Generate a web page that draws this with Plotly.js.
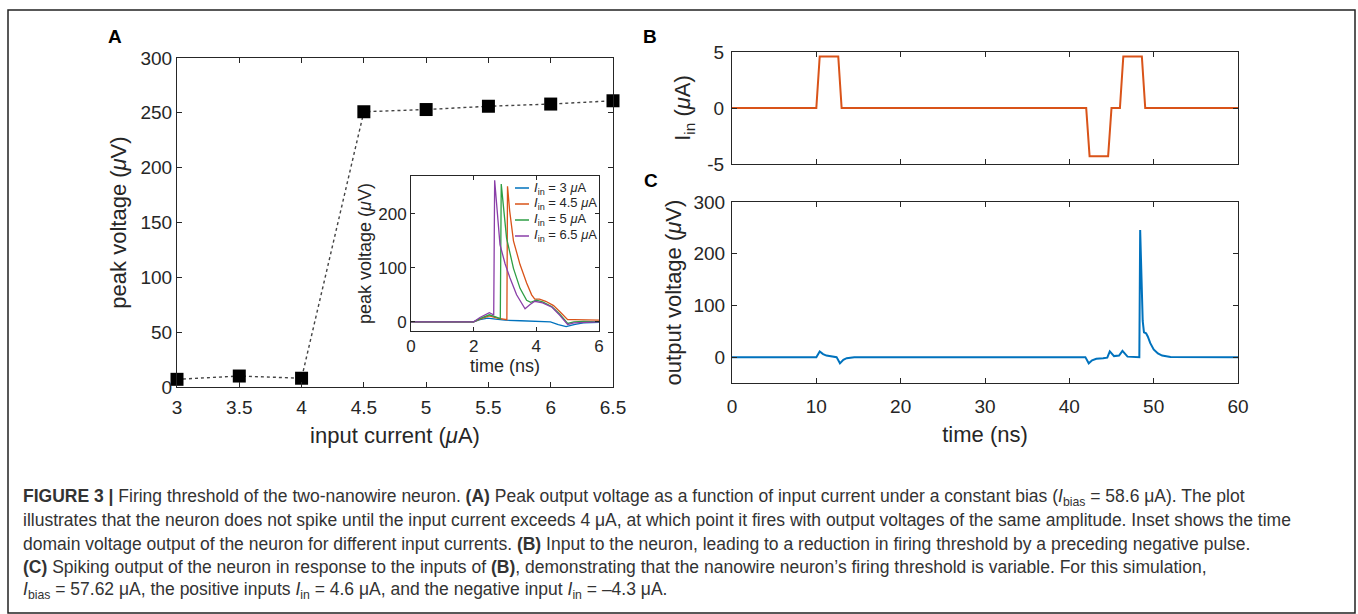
<!DOCTYPE html>
<html>
<head>
<meta charset="utf-8">
<script src="https://cdn.plot.ly/plotly-3.0.1.min.js"></script>
<style>html,body{margin:0;padding:0;background:#fff;}#chart{width:1358px;height:614px;}</style>
</head>
<body>
<div id="chart"></div>
<script>
// ---------- Panel A: peak voltage vs input current ----------
const peakCurrent = [3, 3.5, 4, 4.5, 5, 5.5, 6, 6.5];
const peakVoltage = [7, 10, 8, 251, 253, 256, 258, 261];

// ---------- Inset: time-domain output for several input currents ----------
const insetLabels = [
  '<i>I</i><sub>in</sub> = 3 <i>μ</i>A',
  '<i>I</i><sub>in</sub> = 4.5 <i>μ</i>A',
  '<i>I</i><sub>in</sub> = 5 <i>μ</i>A',
  '<i>I</i><sub>in</sub> = 6.5 <i>μ</i>A'
];
const insetTime3 = [0, 2.0, 2.2, 2.45, 2.7, 3.0, 3.5, 4.0, 4.45, 4.7, 4.95, 5.2, 5.5, 6.0];
const insetV3    = [0, 0, 4, 7, 5, 3, 2, 1.5, 0, -5, -9, -5, -2, -1];
const insetTime45 = [0, 2.0, 2.2, 2.5, 2.75, 3.0, 3.06, 3.08, 3.15, 3.27, 3.48, 3.69, 3.85, 3.95, 4.1, 4.3, 4.55, 4.8, 5.0, 5.2, 5.5, 6.0];
const insetV45    = [0, 0, 5, 11, 7, 4, 4, 251, 205, 150, 106, 72, 50, 42, 42, 38, 30, 16, 4, 4, 4, 3];
const insetTime5 = [0, 2.0, 2.2, 2.5, 2.7, 2.85, 2.88, 2.95, 3.05, 3.27, 3.48, 3.69, 3.82, 4.0, 4.2, 4.5, 4.75, 5.0, 5.2, 5.5, 6.0];
const insetV5    = [0, 0, 6, 13, 9, 6, 255, 210, 155, 99, 62, 40, 36, 40, 37, 28, 14, -3, 0, 1, 0];
const insetTime65 = [0, 2.0, 2.2, 2.5, 2.6, 2.64, 2.67, 2.73, 2.84, 3.0, 3.16, 3.37, 3.64, 3.8, 3.95, 4.2, 4.5, 4.75, 5.0, 5.2, 5.5, 6.0];
const insetV65    = [0, 0, 8, 17, 14, 12, 262, 220, 143, 108, 81, 50, 24, 32, 38, 35, 27, 12, -5, -2, -1, 0];

// ---------- Panel B: input current vs time ----------
const inputTime    = [0, 10, 10.4, 12.6, 13, 42, 42.4, 44.6, 45, 46, 46.4, 48.6, 49, 60];
const inputCurrent = [0, 0, 4.6, 4.6, 0, 0, -4.3, -4.3, 0, 0, 4.6, 4.6, 0, 0];

// ---------- Panel C: output voltage vs time ----------
const outputTime    = [0, 10.0, 10.4, 10.8, 11.2, 12.0, 12.4, 12.8, 13.2, 13.6, 14.5, 41.9, 42.3, 42.7, 43.2, 44.0, 44.5, 44.8, 45.3, 45.9, 46.3, 46.9, 48.3, 48.4, 48.55, 48.7, 48.85, 49.1, 49.3, 49.6, 50.0, 50.5, 51.0, 52.0, 60];
const outputVoltage = [0, 0, 11, 6, 3, 1, 0, -12, -5, -2, 0, 0, -12, -6, -3, -2, -1, 11, 2, 3, 12, 1, 0, 246, 140, 70, 48, 46, 40, 27, 15, 7, 3, 0.5, 0];

// ---------- tick labels ----------
const aTickVals = [3, 3.5, 4, 4.5, 5, 5.5, 6, 6.5];
const aTickText = ['3', '3.5', '4', '4.5', '5', '5.5', '6', '6.5'];
const bYTickVals = [-5, 0, 5];
const bYTickText = ['-5', '0', '5'];
const timeTickVals = [0, 10, 20, 30, 40, 50, 60];
const cYTickVals = [0, 100, 200, 300];
const insetXTicks = [0, 2, 4, 6];
const insetYTicks = [0, 100, 200];

const W = 1358, H = 614;
const px = v => v / W;
const py = v => 1 - v / H;

const FONT = 'Liberation Sans, Arial, Helvetica, sans-serif';
const AX = '#262626';

const insetColors = ['#0072BD', '#D95319', '#2E9E44', '#8A3FA8'];
const insetTimes = [insetTime3, insetTime45, insetTime5, insetTime65];
const insetVals = [insetV3, insetV45, insetV5, insetV65];

const traces = [];
traces.push({
  x: peakCurrent, y: peakVoltage, xaxis: 'x', yaxis: 'y',
  mode: 'lines+markers', showlegend: false, cliponaxis: false,
  line: {color: '#444', width: 1.4, dash: '3px,3px'},
  marker: {symbol: 'square', size: 13, color: '#000'}
});
for (let i = 0; i < 4; i++) {
  traces.push({
    x: insetTimes[i], y: insetVals[i], xaxis: 'x4', yaxis: 'y4',
    mode: 'lines', name: insetLabels[i], showlegend: false,
    line: {color: insetColors[i], width: 1.3}
  });
}
traces.push({
  x: inputTime, y: inputCurrent, xaxis: 'x2', yaxis: 'y2',
  mode: 'lines', showlegend: false, line: {color: '#D95319', width: 2}
});
traces.push({
  x: outputTime, y: outputVoltage, xaxis: 'x3', yaxis: 'y3',
  mode: 'lines', showlegend: false, line: {color: '#0072BD', width: 2}
});

function axis(extra) {
  return Object.assign({
    showline: true, linecolor: AX, linewidth: 1, mirror: 'ticks',
    ticks: 'inside', ticklen: 5, tickwidth: 1, tickcolor: AX,
    showgrid: false, zeroline: false, fixedrange: true,
    tickfont: {family: FONT, size: 19, color: AX}
  }, extra);
}
const titleFont = {family: FONT, size: 22, color: AX};
const insetTitleFont = {family: FONT, size: 18, color: AX};

const layout = {
  width: W, height: H,
  margin: {l: 0, r: 0, t: 0, b: 0, pad: 0},
  paper_bgcolor: '#fff', plot_bgcolor: 'rgba(0,0,0,0)',
  font: {family: FONT, color: AX},
  showlegend: false,
  xaxis: axis({
    domain: [px(177), px(613)], range: [3, 6.5], anchor: 'y',
    tickvals: aTickVals, ticktext: aTickText, ticklabelstandoff: 3,
    title: {text: 'input current (<i>μ</i>A)', font: titleFont, standoff: 10}
  }),
  yaxis: axis({
    domain: [py(387), py(58)], range: [0, 300], anchor: 'x', dtick: 50,
    title: {text: 'peak voltage (<i>μ</i>V)', font: titleFont, standoff: 7}
  }),
  xaxis2: axis({
    domain: [px(732), px(1238)], range: [0, 60], anchor: 'y2',
    tickvals: timeTickVals, showticklabels: false
  }),
  yaxis2: axis({
    domain: [py(164), py(52)], range: [-5, 5], anchor: 'x2',
    tickvals: bYTickVals, ticktext: bYTickText, ticklabelstandoff: 3,
    title: {text: 'I<sub>in</sub> (<i>μ</i>A)', font: titleFont, standoff: 10}
  }),
  xaxis3: axis({
    domain: [px(732), px(1238)], range: [0, 60], anchor: 'y3',
    tickvals: timeTickVals, ticklabelstandoff: 6,
    title: {text: 'time (ns)', font: titleFont, standoff: 10}
  }),
  yaxis3: axis({
    domain: [py(383), py(202)], range: [-50, 300], anchor: 'x3',
    tickvals: cYTickVals, ticklabelstandoff: 2,
    title: {text: 'output voltage (<i>μ</i>V)', font: titleFont, standoff: 5}
  }),
  xaxis4: axis({
    domain: [px(411), px(599)], range: [0, 6], anchor: 'y4',
    tickvals: insetXTicks, tickfont: {family: FONT, size: 17, color: AX},
    ticklen: 4,
    title: {text: 'time (ns)', font: insetTitleFont, standoff: 0}
  }),
  yaxis4: axis({
    domain: [py(331), py(176)], range: [-17, 270], anchor: 'x4',
    tickvals: insetYTicks, tickfont: {family: FONT, size: 17, color: AX},
    ticklen: 4,
    title: {text: 'peak voltage (<i>μ</i>V)', font: insetTitleFont, standoff: 1}
  }),
  shapes: [
    {type: 'rect', xref: 'paper', yref: 'paper',
     x0: px(8), x1: px(1355), y0: py(613), y1: py(10),
     line: {color: '#222', width: 1.5}, fillcolor: 'rgba(0,0,0,0)'}
  ],
  annotations: []
};

// inset legend (drawn as sample lines + labels)
const legendRowY = [188, 204, 220, 236];
insetLabels.forEach((lab, i) => {
  layout.shapes.push({
    type: 'line', xref: 'paper', yref: 'paper',
    x0: px(515), x1: px(529), y0: py(legendRowY[i]), y1: py(legendRowY[i]),
    line: {color: insetColors[i], width: 1.5}
  });
  layout.annotations.push({
    text: lab, xref: 'paper', yref: 'paper',
    x: px(532), y: py(legendRowY[i]), xanchor: 'left', yanchor: 'middle',
    showarrow: false, font: {family: FONT, size: 13, color: AX}
  });
});

const panelLabels = [['A', 115, 36], ['B', 650, 36], ['C', 651, 180]];
panelLabels.forEach(p => layout.annotations.push({
  text: '<b>' + p[0] + '</b>', xref: 'paper', yref: 'paper',
  x: px(p[1]), y: py(p[2]), xanchor: 'center', yanchor: 'middle',
  showarrow: false, font: {family: FONT, size: 19, color: '#000'}
}));

const captionLines = [
  '<b>FIGURE 3 |</b> Firing threshold of the two-nanowire neuron. <b>(A)</b> Peak output voltage as a function of input current under a constant bias (<i>I</i><sub>bias</sub> = 58.6 μA). The plot',
  'illustrates that the neuron does not spike until the input current exceeds 4 μA, at which point it fires with output voltages of the same amplitude. Inset shows the time',
  'domain voltage output of the neuron for different input currents. <b>(B)</b> Input to the neuron, leading to a reduction in firing threshold by a preceding negative pulse.',
  '<b>(C)</b> Spiking output of the neuron in response to the inputs of <b>(B)</b>, demonstrating that the nanowire neuron’s firing threshold is variable. For this simulation,',
  '<i>I</i><sub>bias</sub> = 57.62 μA, the positive inputs <i>I</i><sub>in</sub> = 4.6 μA, and the negative input <i>I</i><sub>in</sub> = –4.3 μA.'
];
const captionY = [497, 520, 544, 567, 590];
captionLines.forEach((t, i) => layout.annotations.push({
  text: t, xref: 'paper', yref: 'paper',
  x: px(21), y: py(captionY[i]), xanchor: 'left', yanchor: 'middle',
  showarrow: false, align: 'left',
  font: {family: FONT, size: 17.5, color: '#333'}
}));

Plotly.newPlot('chart', traces, layout, {displayModeBar: false, staticPlot: true});
</script>
</body>
</html>
